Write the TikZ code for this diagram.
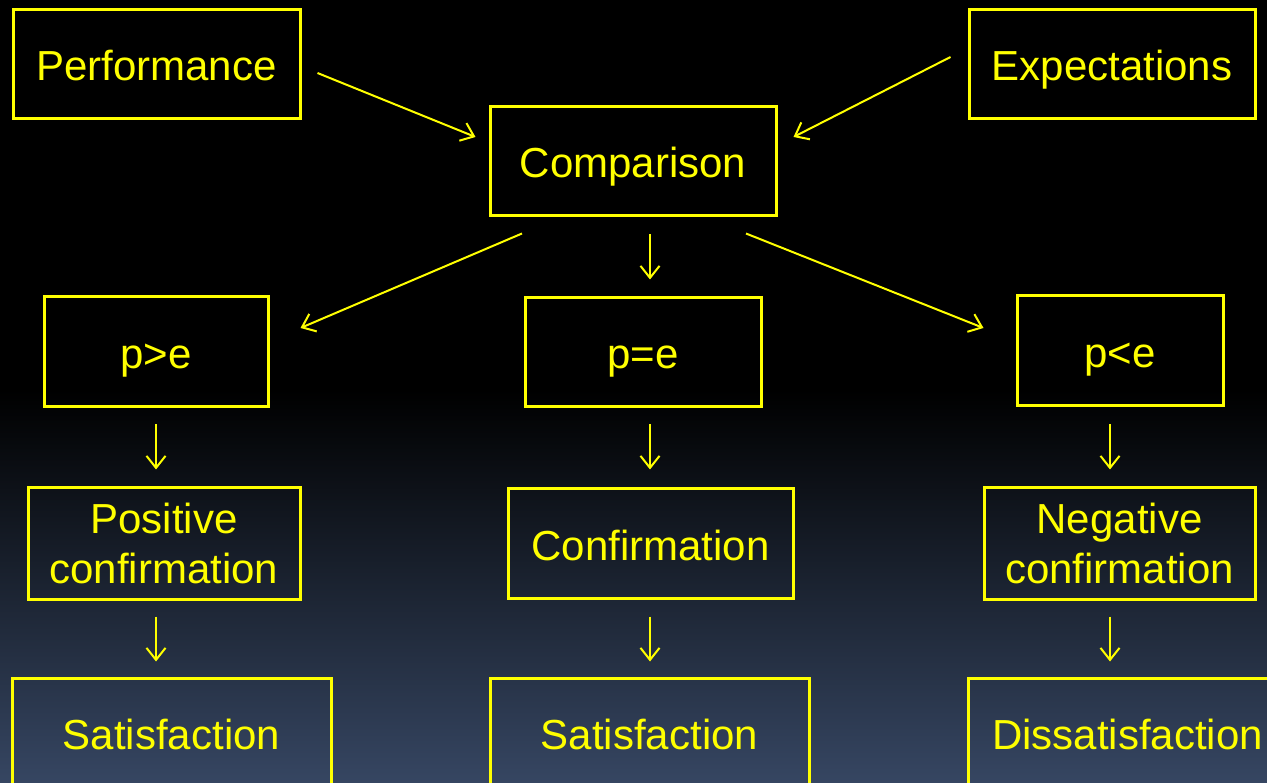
\documentclass[tikz,border=0pt]{standalone}
\usepackage{fontspec}
\setmainfont{Liberation Sans}
\usetikzlibrary{arrows.meta,calc}
\definecolor{yel}{RGB}{255,255,0}
\definecolor{bgb}{RGB}{54,70,98}
\begin{document}
\begin{tikzpicture}[x=1pt,y=-1pt,
  box/.style={draw=yel,line width=3pt,inner sep=0pt,text=yel,align=center,
    font=\fontsize{42}{50}\selectfont},
  one/.style={text height=40pt,text depth=7pt},
  arr/.style={draw=yel,line width=2pt,-{Straight Barb[length=12pt,width=19pt,line width=2pt]}}]
\useasboundingbox (0,0) rectangle (1267,783);
\fill[black] (0,0) rectangle (1267,783);
\shade[top color=black,bottom color=bgb] (0,390) rectangle (1267,783);
\node[box,one,minimum width=287pt,minimum height=109pt] (perf) at (156.5,64.5) {Performance};
\node[box,one,minimum width=286pt,minimum height=109pt] (expt) at (1112,64.5) {Expectations};
\node[box,one,minimum width=286pt,minimum height=109pt] (comp) at (633,161.5) {Comparison};
\node[box,one,minimum width=224pt,minimum height=110pt] (pge) at (156,352) {p>e};
\node[box,one,minimum width=236pt,minimum height=109pt] (peq) at (643,352.5) {p=e};
\node[box,one,minimum width=206pt,minimum height=110pt] (ple) at (1120,351) {p<e};
\node[box,minimum width=272pt,minimum height=111pt] (pos) at (164,543.5) {Positive\\confirmation};
\node[box,one,minimum width=285pt,minimum height=109pt] (conf) at (650.5,543.5) {Confirmation};
\node[box,minimum width=271pt,minimum height=111pt] (neg) at (1119.5,543.5) {Negative\\confirmation};
\node[box,one,minimum width=319pt,minimum height=110pt] (sat1) at (171.5,733) {Satisfaction};
\node[box,one,minimum width=319pt,minimum height=110pt] (sat2) at (649.5,733) {Satisfaction};
\node[box,one,minimum width=319pt,minimum height=110pt] (dis) at (1127.5,733) {Dissatisfaction};
\draw[arr] ($(perf.east)+(16,8.5)$) -- ($(comp.west)+(-13,-24.5)$);
\draw[arr] ($(expt.west)+(-17,-7.5)$) -- ($(comp.east)+(16,-24.5)$);
\draw[arr] ($(comp.south)+(-111,16)$) -- ($(pge.east)+(31,-24)$);
\draw[arr] ($(comp.south)+(17,17)$) -- ($(peq.north)+(7,-17)$);
\draw[arr] ($(comp.south)+(113,16)$) -- ($(ple.west)+(-32,-23)$);
\draw[arr] ($(pge.south)+(0,16)$) -- ($(pos.north)+(-8,-17)$);
\draw[arr] ($(peq.south)+(7,16)$) -- ($(conf.north)+(-0.5,-18)$);
\draw[arr] ($(ple.south)+(-10,17)$) -- ($(neg.north)+(-9.5,-17)$);
\draw[arr] ($(pos.south)+(-8,16)$) -- ($(sat1.north)+(-15.5,-15)$);
\draw[arr] ($(conf.south)+(-0.5,17)$) -- ($(sat2.north)+(0.5,-15)$);
\draw[arr] ($(neg.south)+(-9.5,16)$) -- ($(dis.north)+(-17.5,-15)$);
\end{tikzpicture}
\end{document}
